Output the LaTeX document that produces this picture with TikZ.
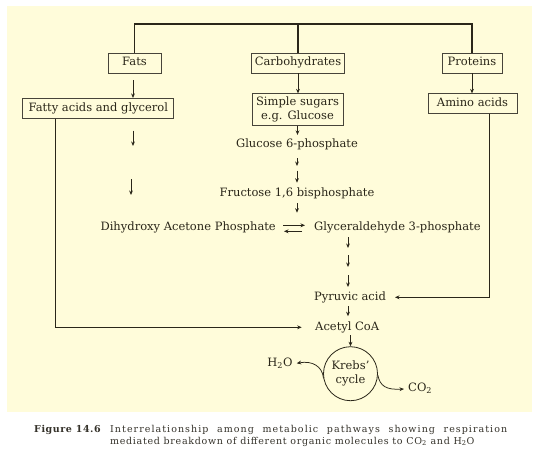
\documentclass[tikz,border=0pt]{standalone}
\usepackage{fontspec}
\setmainfont{DejaVu Serif}
\usetikzlibrary{arrows.meta,calc}
\definecolor{bgc}{HTML}{FFFCDA}
\definecolor{inkc}{HTML}{2A2619}
\definecolor{boxc}{HTML}{47443A}
\definecolor{capc}{HTML}{35322A}
\begin{document}
\begin{tikzpicture}[x=1pt,y=-1pt,
  lbl/.style={inner sep=0pt, text=inkc, font=\fontsize{11.5}{13}\selectfont, text height=7.8pt, text depth=2pt},
  boxn/.style={lbl, draw=boxc, line width=0.7pt, fill=bgc},
  arr/.style={draw=inkc, line width=0.75pt, -{Stealth[length=4.5pt,width=3.8pt]}},
  bar/.style={draw=inkc, line width=1.4pt},
  capf/.style={anchor=base west, inner sep=0pt, text=capc}]
\useasboundingbox (0,0) rectangle (536,456);
\fill[white] (0,0) rectangle (536,456);
\fill[bgc] (7,6) rectangle (532,412);

% boxes
\node[boxn, minimum width=53pt, minimum height=20pt] (fats) at (134.5,63) {Fats};
\node[boxn, minimum width=93pt, minimum height=20pt] (carb) at (298,63) {Carbohydrates};
\node[boxn, minimum width=60pt, minimum height=20pt] (prot) at (472,63) {Proteins};
\node[boxn, minimum width=151pt, minimum height=20pt] (fatty) at (98.3,108.3) {Fatty acids and glycerol};
\node[draw=boxc, line width=0.7pt, fill=bgc, text=inkc, inner sep=0pt, align=center,
      font=\fontsize{11.5}{13.7}\selectfont, minimum width=91pt, minimum height=31.5pt] (sugar) at (297.5,109.5) {Simple sugars\\e.g. Glucose};
\node[boxn, minimum width=89pt, minimum height=19.6pt] (amino) at (472.5,103.5) {Amino acids};

% top bar
\coordinate (topy) at (0,24);
\draw[bar] (fats.north) -- (fats.north |- topy) -- (prot.north |- topy) -- (prot.north);
\draw[bar] (carb.north) -- (carb.north |- topy);

% first arrows
\coordinate (fa1) at (133,80);
\draw[arr] (fa1) -- (fa1 |- fatty.north);
\draw[arr] (carb.south) -- (carb.south |- sugar.north);
\draw[arr] (prot.south) -- (prot.south |- amino.north);

% free arrows on the left
\coordinate (l1a) at (133,130.7); \coordinate (l1b) at (133,146);
\coordinate (l2a) at (131,179);   \coordinate (l2b) at (131,195);
\draw[arr] (l1a) -- (l1b);
\draw[arr] (l2a) -- (l2b);

% central pathway
\node[lbl] (g6p) at (297,145) {Glucose 6-phosphate};
\draw[arr, shorten >=5pt] (sugar.south) -- (sugar.south |- g6p.north);
\coordinate (c1a) at (297,158.3); \coordinate (c1b) at (297,166);
\coordinate (c2a) at (297,170.7); \coordinate (c2b) at (297,182.7);
\draw[arr] (c1a) -- (c1b);
\draw[arr] (c2a) -- (c2b);
\node[lbl] (fru) at (297,194) {Fructose 1,6 bisphosphate};
\coordinate (c3a) at (297,203.3); \coordinate (c3b) at (297,212.7);
\draw[arr] (c3a) -- (c3b);

\node[lbl, anchor=east] (dhap) at (276,227.3) {Dihydroxy Acetone Phosphate};
\node[lbl, anchor=west] (g3p) at (314,227.3) {Glyceraldehyde 3-phosphate};
\draw[arr] ([shift={(7pt,2pt)}]dhap.east) -- ([shift={(-9pt,2pt)}]g3p.west);
\draw[arr] ([shift={(-12pt,-4pt)}]g3p.west) -- ([shift={(8pt,-4pt)}]dhap.east);

\coordinate (g1a) at (348,237); \coordinate (g1b) at (348,248);
\coordinate (g2a) at (348,255); \coordinate (g2b) at (348,267);
\coordinate (g3a) at (348,275); \coordinate (g3b) at (348,287);
\draw[arr] (g1a) -- (g1b);
\draw[arr] (g2a) -- (g2b);
\draw[arr] (g3a) -- (g3b);

\node[lbl, anchor=west] (pyr) at (314,297.3) {Pyruvic acid};
\node[lbl, anchor=west] (acet) at (315,327.3) {Acetyl CoA};
\coordinate (colx) at (348,0);
\draw[arr, shorten <=4pt, shorten >=6pt] (pyr.south -| colx) -- (acet.north -| colx);

\node[draw=inkc, circle, line width=0.8pt, minimum size=54pt, inner sep=0pt, align=center,
      text=inkc, font=\fontsize{11.5}{14.3}\selectfont] (krebs) at (350.5,373.7) {Krebs'\\cycle};
\draw[arr, shorten <=3pt] (krebs.north |- acet.south) -- (krebs.north);

\node[lbl] (h2o) at (280,363.3) {H\textsubscript{2}O};
\node[lbl, anchor=west] (co2) at (408,389) {CO\textsubscript{2}};
\draw[arr] (krebs.190) .. controls (322.5,366) and (312,360.5) .. ([xshift=4pt]h2o.east);
\draw[arr] (krebs.-3) .. controls (380,386) and (386,390) .. ([xshift=-4pt]co2.west);

% side feeds
\coordinate (amx) at (489,0);
\coordinate (pyrin) at (395,297.3);
\draw[arr, line width=0.8pt] (amino.south -| amx) |- (pyrin);
\coordinate (fax) at (55,0);
\coordinate (acin) at (301.7,327.3);
\draw[arr, line width=0.8pt] (fatty.south -| fax) |- (acin);

% caption
\node[capf, font=\fontsize{9.5}{12}\selectfont\bfseries\addfontfeature{LetterSpace=6}] (figlbl) at (34,432) {Figure 14.6};
\node[capf, font=\fontsize{9.5}{12}\selectfont\addfontfeature{LetterSpace=11}] (cap1) at (110,432) {\makebox[397pt][s]{Interrelationship among metabolic pathways showing respiration}};
\node[capf, font=\fontsize{9.5}{12}\selectfont\addfontfeature{LetterSpace=7.3}] (cap2) at (110,444) {mediated breakdown of different organic molecules to CO\textsubscript{2} and H\textsubscript{2}O};
\end{tikzpicture}
\end{document}
